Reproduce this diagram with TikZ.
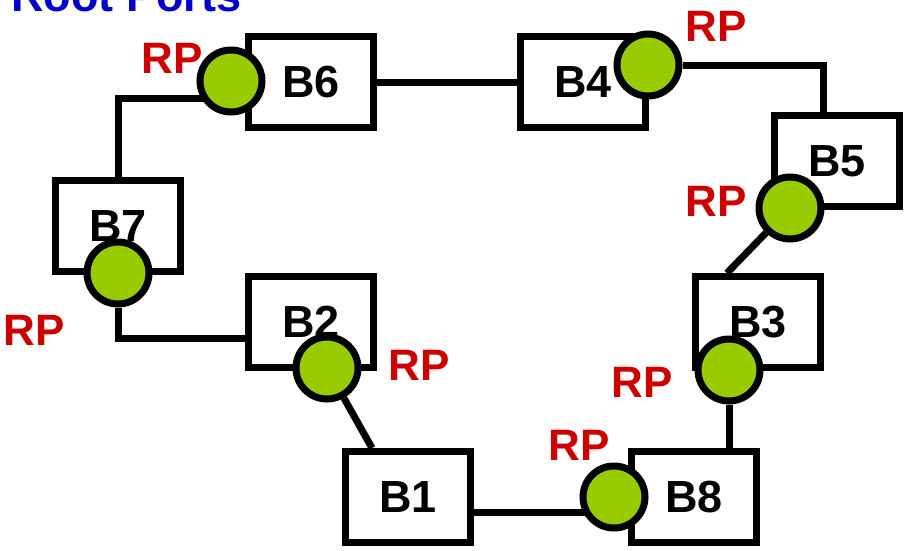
\documentclass[tikz,border=0pt]{standalone}
\usepackage{fontspec}
\setmainfont{Liberation Sans}
\usetikzlibrary{backgrounds}

\definecolor{portgreen}{RGB}{153,204,0}
\definecolor{rpred}{RGB}{204,0,0}
\definecolor{titleblue}{RGB}{0,0,204}

\begin{document}
\begin{tikzpicture}[x=1pt, y=-1pt]
\tikzstyle{bridge} = [draw, line width=7pt, fill=white, minimum width=125pt, minimum height=91pt, inner sep=0pt, font=\fontsize{45}{45}\selectfont\bfseries]
\tikzstyle{port} = [circle, draw, line width=7pt, fill=portgreen, minimum size=62pt, inner sep=0pt]
\tikzstyle{rp} = [text=rpred, inner sep=0pt, font=\fontsize{44}{44}\selectfont\bfseries]
\tikzstyle{link} = [line width=7pt]
\useasboundingbox (0,0) rectangle (909,550);

\node[anchor=base west, inner sep=0pt, text=titleblue, font=\fontsize{45}{45}\selectfont\bfseries] (title) at (11,11) {Root Ports};

% bridges
\node[bridge] (b6) at (311,82) {B6};
\node[bridge] (b4) at (583,82) {B4};
\node[bridge] (b5) at (837,161) {B5};
\node[bridge] (b7) at (118,226) {B7};
\node[bridge] (b2) at (311,322) {B2};
\node[bridge] (b3) at (758,322) {B3};
\node[bridge] (b1) at (408,497) {B1};
\node[bridge] (b8) at (694,497) {B8};

% root ports
\node[port] (p6) at (231,81) {};
\node[port] (p4) at (648,65) {};
\node[port] (p5) at (790,208) {};
\node[port] (p7) at (118,273) {};
\node[port] (p2) at (327,368) {};
\node[port] (p3) at (729,370) {};
\node[port] (p8) at (614,497) {};

\node[rp] (r6) at (172,58) {RP};
\node[rp] (r4) at (716,26) {RP};
\node[rp] (r5) at (716,201) {RP};
\node[rp] (r7) at (34,330) {RP};
\node[rp] (r2) at (419,365) {RP};
\node[rp] (r3) at (642,382) {RP};
\node[rp] (r8) at (579,445) {RP};

\begin{scope}[on background layer]
\draw[link] (b6) -- (b4);
\draw[link] (p4) -| ([xshift=-14pt]b5.north);
\draw[link] (p5) -- ([xshift=-31pt]b3.north);
\draw[link] (p3) -- (p3 |- b8.north);
\draw[link] ([yshift=-15pt]b1.east) -- ([yshift=-15pt]b1.east -| p8);
\draw[link] (p2) -- ([xshift=-36pt]b1.north);
\draw[link] ([yshift=-16pt]b2.west) -| (p7);
\draw[link] (b7.north) |- ([yshift=-17pt]p6.center);
\end{scope}
\end{tikzpicture}
\end{document}
